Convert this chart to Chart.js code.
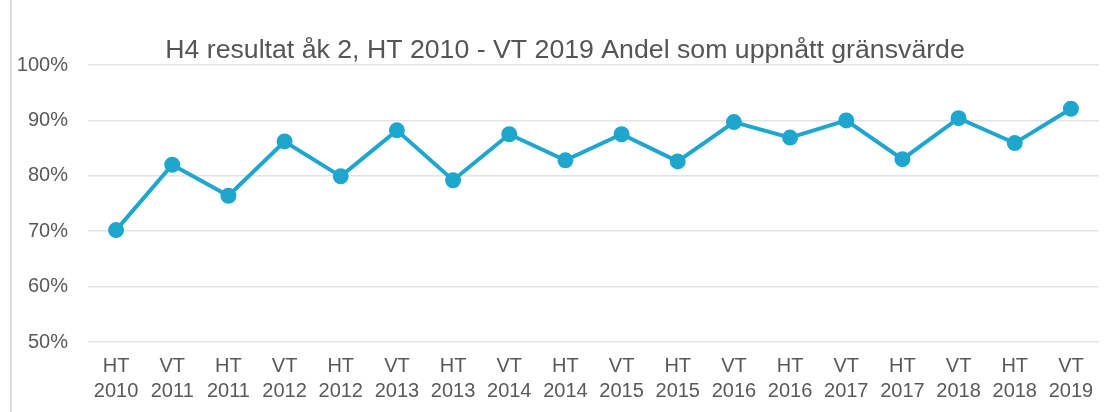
<!DOCTYPE html>
<html>
<head>
<meta charset="utf-8">
<script src="https://cdn.jsdelivr.net/npm/chart.js@4/dist/chart.umd.min.js"></script>
<style>
  html, body { margin: 0; padding: 0; background: #fff; }
  .wrap { position: relative; width: 1109px; height: 412px; }
  .frame { position: absolute; left: 10px; top: 0; width: 0; height: 412px; border-left: 2px solid #d9dce0; }
  canvas { position: absolute; left: 0; top: 0; }
</style>
</head>
<body>
<div class="wrap">
  <div class="frame"></div>
  <canvas id="h4chart" width="1109" height="412"></canvas>
</div>
<script>
  // terminer och år
  const terms = ["HT", "VT", "HT", "VT", "HT", "VT", "HT", "VT", "HT", "VT", "HT", "VT", "HT", "VT", "HT", "VT", "HT", "VT"];
  const years = ["2010", "2011", "2011", "2012", "2012", "2013", "2013", "2014", "2014", "2015", "2015", "2016", "2016", "2017", "2017", "2018", "2018", "2019"];
  // andel som uppnått gränsvärde (%)
  const andel = [70.2, 82.0, 76.4, 86.2, 79.9, 88.2, 79.2, 87.5, 82.8, 87.5, 82.6, 89.7, 86.9, 90.0, 83.0, 90.4, 85.9, 92.1];
  const yTicks = [50, 60, 70, 80, 90, 100];
  const titleText = "H4 resultat åk 2, HT 2010 - VT 2019 Andel som uppnått gränsvärde";

  const labels = terms.map((t, i) => [t, years[i]]);
  const blue = "#1fa6ce";

  // titeln sitter lite till höger om mitten, så den ritas för hand
  const titlePlugin = {
    id: "offsetTitle",
    afterDraw(chart) {
      const c = chart.ctx;
      c.save();
      c.font = "26.7px 'Liberation Sans', Arial";
      c.fillStyle = "#555555";
      c.textAlign = "center";
      c.textBaseline = "alphabetic";
      c.fillText(titleText, 565, 58);
      c.restore();
    },
  };

  const ctx = document.getElementById("h4chart").getContext("2d");
  new Chart(ctx, {
    type: "line",
    data: {
      labels: labels,
      datasets: [
        {
          data: andel,
          borderColor: blue,
          backgroundColor: blue,
          borderWidth: 4,
          pointRadius: 6,
          pointHoverRadius: 6,
          tension: 0,
          fill: false,
        },
      ],
    },
    plugins: [titlePlugin],
    options: {
      responsive: false,
      animation: false,
      layout: { padding: { left: 0, right: 0, top: 65, bottom: 0 } },
      plugins: {
        legend: { display: false },
        tooltip: { enabled: false },
        title: { display: false },
      },
      scales: {
        x: {
          offset: true,
          grid: { display: false, drawTicks: false },
          border: { display: false },
          ticks: {
            color: "#595959",
            font: { family: "Liberation Sans, Arial", size: 20, lineHeight: 1.25 },
            padding: 12,
            maxRotation: 0,
            autoSkip: false,
          },
          afterFit: (scale) => { scale.height = 70; },
        },
        y: {
          min: 50,
          max: 100,
          grid: { color: "#e1e3e8", lineWidth: 1.5, drawTicks: false },
          border: { display: false },
          afterBuildTicks: (scale) => { scale.ticks = yTicks.map((v) => ({ value: v })); },
          ticks: {
            color: "#595959",
            font: { family: "Liberation Sans, Arial", size: 20 },
            padding: 20,
            callback: (v) => v + "%",
          },
          afterFit: (scale) => { scale.width = 88; },
        },
      },
    },
  });
</script>
</body>
</html>
